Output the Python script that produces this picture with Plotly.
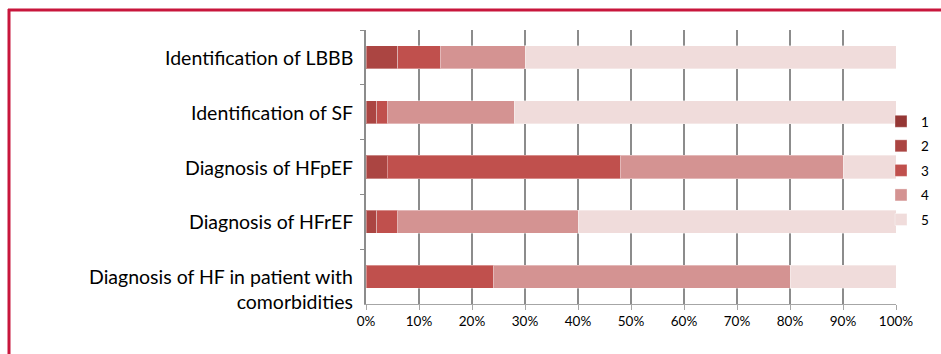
import plotly.graph_objects as go

categories = [
    "Identification of LBBB",
    "Identification of SF",
    "Diagnosis of HFpEF",
    "Diagnosis of HFrEF",
    "Diagnosis of HF in patient with<br>comorbidities",
]
series_names = ["1", "2", "3", "4", "5"]
s1 = [0, 0, 0, 0, 0]
s2 = [6, 2, 4, 2, 0]
s3 = [8, 2, 44, 4, 24]
s4 = [16, 24, 42, 34, 56]
s5 = [70, 72, 10, 60, 20]
colors = ["#953735", "#ab4542", "#c0504d", "#d49392", "#f0dcdb"]
x_ticks = [0, 10, 20, 30, 40, 50, 60, 70, 80, 90, 100]
x_tick_labels = [f"{t}%" for t in x_ticks]

FONT = "Lato"

fig = go.Figure()
for i, (name, vals) in enumerate(zip(series_names, [s1, s2, s3, s4, s5])):
    fig.add_trace(go.Bar(
        y=categories, x=vals, name=name, orientation="h",
        marker=dict(color=colors[i], line=dict(color="rgba(255,255,255,0.35)", width=1)),
        legendgroup=f"g{i}",
    ))

for c in categories:
    two = "<br>" in c
    fig.add_annotation(
        x=0, xref="paper", y=c, yref="y", text=c, showarrow=False,
        xanchor="right", yanchor="top" if two else "middle",
        yshift=14 if two else 0, xshift=-11, align="right",
        font=dict(family=FONT, size=19.5, color="#000000"),
    )

W, H = 941, 354
L, R, T, B = 366, 45, 30, 50
pw, ph = W - L - R, H - T - B
def px(x):
    return (x - L) / pw
def py(y):
    return 1 - (y - T) / ph

border = "#c8163c"
fig.add_shape(type="line", xref="paper", yref="paper", x0=px(8), x1=px(960), y0=py(10), y1=py(10),
              line=dict(color=border, width=3))
fig.add_shape(type="line", xref="paper", yref="paper", x0=px(9), x1=px(9), y0=py(9), y1=py(380),
              line=dict(color=border, width=3))

fig.update_layout(
    width=W, height=H, margin=dict(l=L, r=R, t=T, b=B, autoexpand=False),
    barmode="stack", bargap=0.58,
    paper_bgcolor="white", plot_bgcolor="white",
    showlegend=True,
    legend=dict(x=px(881), xanchor="left", y=py(106), yanchor="top", traceorder="grouped",
                font=dict(family=FONT, size=13.5, color="#000000"), tracegroupgap=4,
                itemwidth=30, bgcolor="rgba(0,0,0,0)"),
    xaxis=dict(range=[0, 100], tickvals=x_ticks, ticktext=x_tick_labels,
               showgrid=True, gridcolor="#8c8c8c", gridwidth=1.5,
               showline=True, linecolor="#a6a6a6", linewidth=1,
               ticks="outside", ticklen=5, tickcolor="#a6a6a6",
               tickfont=dict(family=FONT, size=13.5, color="#000000"), zeroline=False),
    yaxis=dict(autorange="reversed", showticklabels=False, showline=True, linecolor="#8c8c8c",
               linewidth=1.5, ticks="outside", ticklen=4, tickcolor="#8c8c8c", tickson="boundaries",
               showgrid=False),
    font=dict(family=FONT),
)
fig.write_html("out.html")
